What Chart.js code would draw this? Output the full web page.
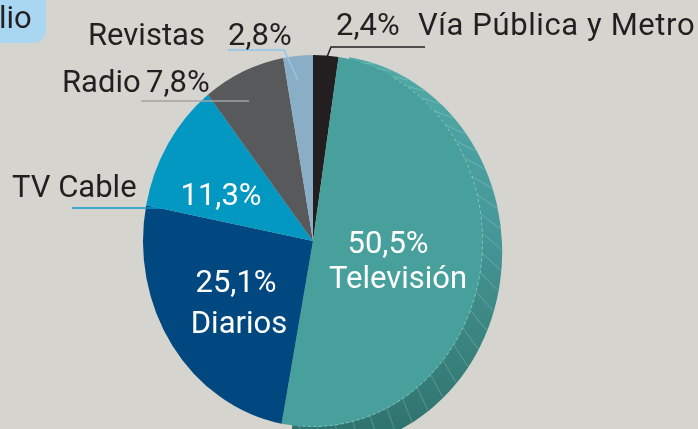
<!DOCTYPE html>
<html>
<head>
<meta charset="utf-8">
<script src="https://cdn.jsdelivr.net/npm/chart.js@4/dist/chart.umd.min.js"></script>
<style>
  html, body { margin: 0; padding: 0; background: #d5d4ce; }
  #wrap { position: relative; width: 698px; height: 429px; overflow: hidden; }
  canvas { display: block; }
</style>
</head>
<body>
<div id="wrap"><canvas id="pie" width="698" height="429"></canvas></div>
<script>
// Inversión publicitaria por medio (%)
const categories = ['Vía Pública y Metro', 'Televisión', 'Diarios', 'TV Cable', 'Radio', 'Revistas'];
const shares = [2.4, 50.5, 25.1, 11.3, 7.8, 2.8];
const sliceColors = ['#231f20', '#47a09b', '#00487f', '#0398c2', '#58595b', '#8baec7'];
const headerText = 'lio';

const pctText = v => v.toFixed(1).replace('.', ',') + '%';

// pie is drawn as an ellipse: horizontal squeeze around its centre
const SQUEEZE_X = 0.914;
const INK = '#231f20';
const FONT = '31px Roboto, "Liberation Sans", sans-serif';

// label placement for every slice
const labelLayout = [
  { pct: { x: 336, y: 35, align: 'left', color: INK }, name: { x: 418, y: 35, align: 'left', color: INK, spacing: '0.6px' },
    leader: { color: '#231f20', pts: [[425, 47], [331, 47], [327, 57]] } },
  { pct: { x: 388, y: 253, align: 'center', color: '#ffffff' }, name: { x: 398, y: 288, align: 'center', color: '#ffffff' } },
  { pct: { x: 236, y: 292, align: 'center', color: '#ffffff' }, name: { x: 239, y: 333, align: 'center', color: '#ffffff' } },
  { pct: { x: 221, y: 205, align: 'center', color: '#ffffff' }, name: { x: 12, y: 197, align: 'left', color: INK },
    leader: { color: '#0a98d0', pts: [[72, 208], [165, 208]] } },
  { pct: { x: 146, y: 92, align: 'left', color: INK }, name: { x: 62, y: 92, align: 'left', color: INK },
    leader: { color: '#a3a4a6', pts: [[141, 101], [249, 101]] } },
  { pct: { x: 228, y: 45, align: 'left', color: INK }, name: { x: 88, y: 45, align: 'left', color: INK },
    leader: { color: '#8fc6ea', pts: [[228, 50], [284, 50], [298, 80]] } }
];

const ellipsePie = {
  id: 'ellipsePie',
  beforeDraw(chart) {
    const ctx = chart.ctx;
    ctx.save();
    ctx.fillStyle = '#d5d4ce';
    ctx.fillRect(0, 0, chart.width, chart.height);
    // header tab in the corner
    ctx.fillStyle = '#a9d7f1';
    ctx.beginPath();
    ctx.moveTo(0, 0);
    ctx.lineTo(46, 0);
    ctx.lineTo(46, 30);
    ctx.arcTo(46, 43, 33, 43, 13);
    ctx.lineTo(0, 43);
    ctx.closePath();
    ctx.fill();
    ctx.fillStyle = INK;
    ctx.font = FONT;
    ctx.textAlign = 'left';
    ctx.textBaseline = 'alphabetic';
    ctx.fillText(headerText, -1, 28);
    ctx.restore();
  },
  beforeDatasetsDraw(chart) {
    const ctx = chart.ctx;
    const arc = chart.getDatasetMeta(0).data[1];
    const p = arc.getProps(['x', 'y', 'startAngle', 'endAngle', 'outerRadius'], true);
    ctx.save();
    ctx.translate(p.x, p.y);
    ctx.scale(SQUEEZE_X, 1);
    // extruded side of the Televisión slice
    const dx = 10, dy = 11, R = p.outerRadius + 11;
    const g = ctx.createLinearGradient(0, -R, 0, R);
    g.addColorStop(0, '#52aba6');
    g.addColorStop(0.45, '#46999a');
    g.addColorStop(0.75, '#3b847f');
    g.addColorStop(1, '#2e726e');
    ctx.fillStyle = g;
    ctx.beginPath();
    ctx.moveTo(dx, dy);
    ctx.arc(dx, dy, R, p.startAngle, p.endAngle);
    ctx.closePath();
    ctx.fill();
    // faint segment marks on the side
    ctx.strokeStyle = 'rgba(205,232,230,0.28)';
    ctx.lineWidth = 1;
    const step = (p.endAngle - p.startAngle) / 30;
    for (let a = p.startAngle + step; a < p.endAngle; a += step) {
      ctx.beginPath();
      ctx.moveTo(Math.cos(a) * (p.outerRadius - 1), Math.sin(a) * (p.outerRadius - 1));
      ctx.lineTo(dx + Math.cos(a + 0.03) * (R - 1), dy + Math.sin(a + 0.03) * (R - 1));
      ctx.stroke();
    }
    ctx.translate(-p.x, -p.y);
  },
  afterDatasetsDraw(chart) {
    const ctx = chart.ctx;
    const arc = chart.getDatasetMeta(0).data[1];
    const p = arc.getProps(['x', 'y', 'startAngle', 'endAngle', 'outerRadius'], true);
    // dashed rim line on the face of the Televisión slice
    ctx.translate(p.x, p.y);
    ctx.strokeStyle = 'rgba(190,225,222,0.6)';
    ctx.lineWidth = 1;
    ctx.setLineDash([3, 3]);
    ctx.beginPath();
    ctx.arc(0, 0, p.outerRadius - 0.5, p.startAngle + 0.35, p.endAngle - 0.1);
    ctx.stroke();
    ctx.restore();
  },
  afterDraw(chart) {
    const ctx = chart.ctx;
    ctx.save();
    ctx.font = FONT;
    ctx.textBaseline = 'alphabetic';
    labelLayout.forEach((lay, i) => {
      if (lay.leader) {
        ctx.strokeStyle = lay.leader.color;
        ctx.lineWidth = 1.5;
        ctx.beginPath();
        lay.leader.pts.forEach((pt, k) => k ? ctx.lineTo(pt[0], pt[1]) : ctx.moveTo(pt[0], pt[1]));
        ctx.stroke();
      }
      const pct = pctText(shares[i]);
      ctx.letterSpacing = '0px';
      ctx.fillStyle = lay.pct.color;
      ctx.textAlign = lay.pct.align;
      ctx.fillText(pct, lay.pct.x, lay.pct.y);
      ctx.letterSpacing = lay.name.spacing || '0px';
      ctx.fillStyle = lay.name.color;
      ctx.textAlign = lay.name.align;
      ctx.fillText(categories[i], lay.name.x, lay.name.y);
    });
    ctx.restore();
  }
};

new Chart(document.getElementById('pie'), {
  type: 'pie',
  data: {
    labels: categories,
    datasets: [{
      data: shares,
      backgroundColor: sliceColors,
      borderWidth: 0,
      hoverBorderWidth: 0,
      hoverOffset: 0,
      offset: 0,
      clip: false
    }]
  },
  options: {
    responsive: false,
    animation: false,
    events: [],
    layout: { padding: { left: 127, right: 199, top: 55, bottom: 2 } },
    plugins: { legend: { display: false }, tooltip: { enabled: false }, title: { display: false } }
  },
  plugins: [ellipsePie]
});
</script>
</body>
</html>
